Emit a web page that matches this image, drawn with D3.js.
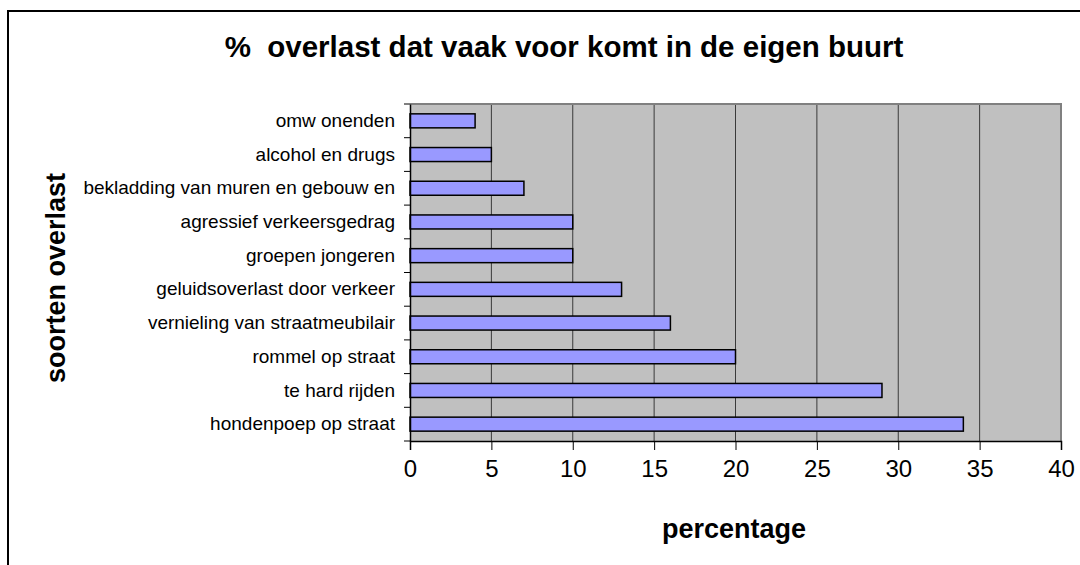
<!DOCTYPE html>
<html>
<head>
<meta charset="utf-8">
<script src="https://cdn.jsdelivr.net/npm/d3@7"></script>
<style>
  body { margin: 0; background: #fff; }
  text { font-family: Arial, "Liberation Sans", sans-serif; }
</style>
</head>
<body>
<div id="chart"></div>
<script>
// data, top to bottom
var categories = ["omw onenden", "alcohol en drugs", "bekladding van muren en gebouw en",
    "agressief verkeersgedrag", "groepen jongeren", "geluidsoverlast door verkeer",
    "vernieling van straatmeubilair", "rommel op straat", "te hard rijden", "hondenpoep op straat"];
var values = [4, 5, 7, 10, 10, 13, 16, 20, 29, 34];
var xTicks = [0, 5, 10, 15, 20, 25, 30, 35, 40];

var W = 1080, H = 565;
var plot = { left: 410, top: 104, right: 1061, bottom: 441 };

var svg = d3.select("#chart").append("svg")
    .attr("width", W).attr("height", H);

// outer chart border (runs off the right and bottom edge)
svg.append("rect")
    .attr("x", 8).attr("y", 11)
    .attr("width", W + 10).attr("height", H + 10)
    .attr("fill", "#fff").attr("stroke", "#000").attr("stroke-width", 2);

var x = d3.scaleLinear().domain([0, 40]).range([plot.left, plot.right]);
var y = d3.scaleBand().domain(categories).range([plot.top, plot.bottom]).padding(0);

// plot background
svg.append("rect")
    .attr("x", plot.left).attr("y", plot.top)
    .attr("width", plot.right - plot.left).attr("height", plot.bottom - plot.top)
    .attr("fill", "#c0c0c0");

// vertical gridlines
svg.append("g").selectAll("line")
    .data(xTicks.filter(function(d) { return d > 0 && d < 40; }))
    .enter().append("line")
    .attr("x1", function(d) { return x(d); }).attr("x2", function(d) { return x(d); })
    .attr("y1", plot.top).attr("y2", plot.bottom)
    .attr("stroke", "#3a3a3a").attr("stroke-width", 1);

// grey top and right border of plot area
svg.append("path")
    .attr("d", "M" + plot.left + "," + plot.top + "H" + plot.right + "V" + plot.bottom)
    .attr("fill", "none").attr("stroke", "#808080").attr("stroke-width", 2);

// bars
var barH = 14;
svg.append("g").selectAll("rect")
    .data(categories)
    .enter().append("rect")
    .attr("x", x(0))
    .attr("y", function(d) { return y(d) + y.bandwidth() / 2 - barH / 2; })
    .attr("width", function(d, i) { return x(values[i]) - x(0); })
    .attr("height", barH)
    .attr("fill", "#9999ff")
    .attr("stroke", "#000").attr("stroke-width", 1.5);

// x axis
var xAxis = d3.axisBottom(x).tickValues(xTicks).tickSize(9).tickPadding(10);
var gx = svg.append("g")
    .attr("transform", "translate(0," + plot.bottom + ")")
    .call(xAxis);
gx.select(".domain").attr("stroke", "#000").attr("stroke-width", 1.5);
gx.selectAll(".tick line").attr("stroke", "#000");
gx.selectAll(".tick text")
    .attr("font-size", 24).attr("fill", "#000")
    .attr("font-family", "Arial, 'Liberation Sans', sans-serif");

// y axis: labels only, ticks drawn at band boundaries
var gy = svg.append("g")
    .attr("transform", "translate(" + plot.left + ",0)")
    .call(d3.axisLeft(y).tickSize(0).tickPadding(15));
gy.select(".domain").attr("stroke", "#000").attr("stroke-width", 1.5);
gy.selectAll(".tick text")
    .attr("font-size", 19).attr("fill", "#000")
    .attr("font-family", "Arial, 'Liberation Sans', sans-serif");

var bounds = categories.map(function(d) { return y(d); }).concat([plot.bottom]);
gy.selectAll(".btick").data(bounds).enter().append("line")
    .attr("class", "btick")
    .attr("x1", -6).attr("x2", 0)
    .attr("y1", function(d) { return d; }).attr("y2", function(d) { return d; })
    .attr("stroke", "#000").attr("stroke-width", 1);

// titles
svg.append("text")
    .attr("x", 564).attr("y", 57)
    .attr("text-anchor", "middle")
    .attr("font-size", 29.5).attr("font-weight", "bold")
    .attr("xml:space", "preserve")
    .text("%  overlast dat vaak voor komt in de eigen buurt");

svg.append("text")
    .attr("x", 734).attr("y", 538)
    .attr("text-anchor", "middle")
    .attr("font-size", 27).attr("font-weight", "bold")
    .text("percentage");

svg.append("text")
    .attr("transform", "translate(65,278) rotate(-90)")
    .attr("text-anchor", "middle")
    .attr("font-size", 27).attr("font-weight", "bold")
    .text("soorten overlast");
</script>
</body>
</html>
